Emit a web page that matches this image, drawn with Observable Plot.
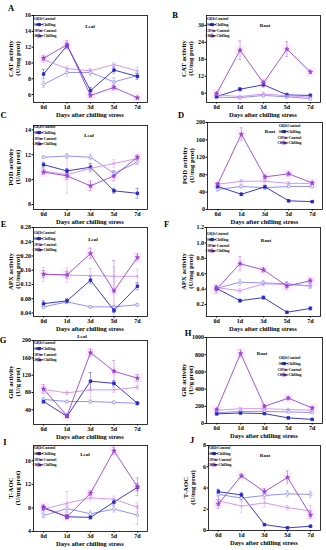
<!DOCTYPE html>
<html><head><meta charset="utf-8">
<script src="https://cdn.jsdelivr.net/npm/d3@7"></script>
<script src="https://cdn.jsdelivr.net/npm/@observablehq/plot@0.6"></script>
<style>
html,body{margin:0;padding:0;background:#fff;}
#chart{position:relative;width:326px;height:550px;overflow:hidden;background:#fff;}
#chart svg{position:absolute;left:0;top:0;}
</style></head><body><div id="chart"></div>
<script>
const days = ["0d","1d","3d","5d","7d"];
const series = ["ClCl-Control","ClCl-Chilling","ClCm-Control","ClCm-Chilling"];
const xTitle = "Days after chilling stress";

// values per panel: rows = series (same order as `series`), cols = days
const A_vals = [[7.3,8.8,8.8,7.6,8.4],[8.6,12.2,6.5,9.1,8.3],[10.4,9.3,9.0,9.8,9.0],[10.6,12.3,5.9,6.9,5.6]];
const A_errs = [[0.4,0.5,0.4,0.5,0.3],[0.6,0.3,0.4,0.4,0.4],[0.3,0.3,0.3,0.2,0.4],[0.3,0.5,0.3,0.3,0.2]];
const B_vals = [[4.6,4.4,5.2,4.7,4.1],[4.8,7.4,9.0,5.4,5.2],[5.4,4.8,5.7,5.1,4.6],[5.8,21.2,9.6,21.6,13.5]];
const B_errs = [[0.5,0.4,0.6,0.5,0.5],[0.5,0.6,0.8,0.6,0.5],[0.6,0.5,0.8,0.6,0.5],[0.6,3.3,1.0,2.6,0.6]];
const C_vals = [[11.8,11.9,11.8,10.5,11.4],[11.2,10.7,11.0,9.1,8.9],[10.7,10.4,10.9,11.3,11.7],[10.6,10.3,9.5,10.3,11.8]];
const C_errs = [[0.1,0.2,0.2,0.2,0.2],[0.2,0.2,0.3,0.2,0.4],[0.2,1.5,0.3,0.3,0.2],[0.2,0.3,0.4,0.4,0.2]];
const D_vals = [[46,53,50,53,53],[53,35,52,20,18],[58,65,65,60,60],[58,173,75,82,61]];
const D_errs = [[4,4,3,3,3],[3,3,4,2,2],[4,4,4,4,4],[4,15,4,5,4]];
const E_vals = [[0.057,0.071,0.057,0.057,0.063],[0.066,0.074,0.132,0.047,0.115],[0.148,0.146,0.145,0.143,0.143],[0.149,0.147,0.207,0.102,0.196]];
const E_errs = [[0.005,0.005,0.004,0.004,0.004],[0.008,0.006,0.01,0.006,0.01],[0.02,0.02,0.02,0.025,0.02],[0.01,0.01,0.015,0.085,0.01]];
const F_vals = [[0.41,0.49,0.48,0.47,0.44],[0.41,0.25,0.29,0.10,0.15],[0.42,0.38,0.47,0.46,0.44],[0.40,0.73,0.65,0.44,0.51]];
const F_errs = [[0.03,0.04,0.03,0.03,0.03],[0.02,0.02,0.02,0.01,0.02],[0.03,0.03,0.03,0.03,0.03],[0.05,0.09,0.03,0.04,0.03]];
const G_vals = [[64,59,59,57,55],[59,25,106,101,55],[87,79,86,86,92],[88,26,172,129,113]];
const G_errs = [[5,3,4,3,3],[4,3,20,6,4],[6,4,18,6,5],[10,4,8,25,8]];
const H_vals = [[125,140,140,135,127],[112,122,115,65,48],[155,172,172,162,155],[160,815,200,295,180]];
const H_errs = [[10,10,10,10,10],[10,10,10,10,8],[15,15,15,15,15],[15,40,15,20,15]];
const I_vals = [[6.7,7.9,7.0,7.8,6.8],[8.0,6.5,6.4,9.0,11.5],[7.8,8.8,9.7,9.5,8.1],[8.1,6.5,10.5,17.7,11.6]];
const I_errs = [[0.4,0.6,0.5,0.5,1.6],[0.4,0.3,0.3,0.5,0.6],[0.6,2.0,0.5,0.5,0.8],[0.5,0.4,0.4,0.6,1.5]];
const J_vals = [[3.4,3.05,3.3,3.45,3.4],[3.65,3.35,0.55,0.25,0.4],[2.8,2.3,2.6,2.15,1.85],[2.5,5.15,3.65,5.0,1.45]];
const J_errs = [[0.5,0.3,0.3,0.3,0.3],[0.2,0.2,0.1,0.05,0.1],[0.4,0.6,0.4,0.2,0.5],[0.4,0.2,0.3,0.6,0.3]];

const colors = ["#8585f2","#2626c4","#cf8cf0","#9545d6"];
const symbols = ["circle","square","times","star"];
const radii = [1.4,1.5,1.3,1.35];
const legendArea = [5,6,5,5.5];
const filled = [false,true,false,true];
const FONT = "'Liberation Serif','Times New Roman',serif";
const PAD = 0.43;

const panels = [
 {id:"A",tissue:"Leaf",yt:["CAT activity","(U/mg prot)"],f:[33,147,15,102],dom:[5,16],ticks:[6,8,10,12,14,16],v:A_vals,e:A_errs,L:[11,10.5],lg:[35,19],tp:[90,26]},
 {id:"B",tissue:"Root",yt:["CAT activity","(U/mg prot)"],f:[206,320,15,102],dom:[2.7,33.5],ticks:[6,12,18,24,30],v:B_vals,e:B_errs,L:[175,17.5],lg:[208,19],tp:[265,25]},
 {id:"C",tissue:"Leaf",yt:["POD activity","(U/mg prot)"],f:[33,147,125,209],dom:[7.6,14.35],ticks:[8,10,12,14],v:C_vals,e:C_errs,L:[3.5,118],lg:[35,127],tp:[89,135]},
 {id:"D",tissue:"Root",yt:["POD activity","(U/mg prot)"],f:[207,322,122,209],dom:[0,200],ticks:[0,40,80,120,160,200],v:D_vals,e:D_errs,L:[181,118],lg:[280,126],tp:[270,131]},
 {id:"E",tissue:"Leaf",yt:["APX activity","(U/mg prot)"],f:[33,147,227,316],dom:[0.03,0.28],ticks:[0.04,0.08,0.12,0.16,0.20,0.24,0.28],fmt:".2f",v:E_vals,e:E_errs,L:[3.5,227],lg:[35,233],tp:[93,239]},
 {id:"F",tissue:"Root",yt:["APX activity","(U/mg prot)"],f:[206,320,227,316],dom:[0.045,1.2],ticks:[0.2,0.4,0.6,0.8,1.0,1.2],fmt:".1f",v:F_vals,e:F_errs,L:[166.5,227],lg:[208,234],tp:[266,240]},
 {id:"G",tissue:"Leaf",yt:["GR activity","(U/g prot)"],f:[33,147,340,424],dom:[6,200],ticks:[40,80,120,160,200],v:G_vals,e:G_errs,L:[3,343],lg:[35,343],tp:[82,336]},
 {id:"H",tissue:"Root",yt:["GR activity","(U/g prot)"],f:[206,322,337,423],dom:[0,1000],ticks:[0,200,400,600,800,1000],v:H_vals,e:H_errs,L:[188,336],lg:[280,358],tp:[262,353]},
 {id:"I",tissue:"Leaf",yt:["T-AOC","(U/mg prot)"],f:[33,147,445,531],dom:[4,18.6],ticks:[4,8,12,16],v:I_vals,e:I_errs,L:[5,445],lg:[35,448],tp:[85,454]},
 {id:"J",tissue:"Root",yt:["T-AOC","(U/mg prot)"],f:[208,320,445,530],dom:[0,8],ticks:[0,2,4,6,8],v:J_vals,e:J_errs,L:[192,443],lg:[210,448],tp:[265,455]}
];

const root = document.getElementById("chart");

for (const p of panels) {
  const rows = [];
  series.forEach((s,i)=>days.forEach((d,j)=>rows.push({s, si:i, j, day:d, v:p.v[i][j], e:p.e[i][j]})));
  const cap = 0.065;
  const marks = [];
  marks.push(Plot.dot(rows.filter(r=>r.si===3), {x:"j", y:"v", symbol:"square", r:5.5, fill:"#ff99dd", fillOpacity:0.16, stroke:null}));
  marks.push(Plot.ruleX(rows, {x:"j", y1:r=>r.v-r.e, y2:r=>r.v+r.e, stroke:r=>colors[r.si], strokeWidth:0.6, strokeOpacity:0.7}));
  marks.push(Plot.ruleY(rows, {y:r=>r.v-r.e, x1:r=>r.j-cap, x2:r=>r.j+cap, stroke:r=>colors[r.si], strokeWidth:0.6, strokeOpacity:0.7}));
  marks.push(Plot.ruleY(rows, {y:r=>r.v+r.e, x1:r=>r.j-cap, x2:r=>r.j+cap, stroke:r=>colors[r.si], strokeWidth:0.6, strokeOpacity:0.7}));
  series.forEach((s,i)=>{
    const sub = rows.filter(r=>r.si===i);
    marks.push(Plot.line(sub, {x:"j", y:"v", stroke:colors[i], strokeWidth:0.9}));
    marks.push(Plot.dot(sub, {x:"j", y:"v", symbol:symbols[i], r:radii[i], fill: filled[i]?colors[i]:(symbols[i]==="circle"?"white":"none"), stroke:colors[i], strokeWidth:0.7}));
  });
  marks.push(Plot.frame({stroke:"black", strokeWidth:0.8}));
  marks.push(Plot.axisY({ticks:p.ticks, tickSize:1.5, tickPadding:1, tickFormat:p.fmt?d3.format(p.fmt):(d=>String(d)), label:null}));
  marks.push(Plot.axisX({ticks:[0,1,2,3,4], tickSize:1.5, tickPadding:1, tickFormat:i=>days[i], label:null}));

  const svg = Plot.plot({
    width:326, height:550,
    marginLeft:p.f[0], marginRight:326-p.f[1], marginTop:p.f[2], marginBottom:550-p.f[3],
    style:{background:"transparent", fontFamily:FONT, fontWeight:"bold", fontSize:"6px", color:"black", overflow:"visible"},
    x:{type:"linear", domain:[-PAD, 4+PAD]},
    y:{domain:p.dom},
    marks
  });
  const g = d3.select(svg).append("g").attr("font-family", FONT).attr("font-weight","bold").attr("fill","black");
  g.append("text").attr("x",p.L[0]).attr("y",p.L[1]).attr("font-size","8.5px").text(p.id);
  const cy = (p.f[2]+p.f[3])/2;
  g.append("text").attr("transform",`translate(${p.f[0]-22},${cy}) rotate(-90)`).attr("text-anchor","middle").attr("dy","0.35em").attr("font-size","6.8px").text(p.yt[0]);
  g.append("text").attr("transform",`translate(${p.f[0]-15},${cy}) rotate(-90)`).attr("text-anchor","middle").attr("dy","0.35em").attr("font-size","6.8px").text(p.yt[1]);
  g.append("text").attr("x",(p.f[0]+p.f[1])/2).attr("y",p.f[3]+12.5).attr("text-anchor","middle").attr("dy","0.35em").attr("font-size","6.5px").text(xTitle);
  g.append("text").attr("x",p.tp[0]).attr("y",p.tp[1]).attr("text-anchor","middle").attr("dy","0.35em").attr("font-size","5px").text(p.tissue);
  series.forEach((s,i)=>{
    const y = p.lg[1] + i*5.6, x0 = p.lg[0];
    g.append("line").attr("x1",x0).attr("x2",x0+8).attr("y1",y).attr("y2",y).attr("stroke",colors[i]).attr("stroke-width",0.8);
    const sym = {circle:d3.symbolCircle, square:d3.symbolSquare, times:d3.symbolTimes, star:d3.symbolStar}[symbols[i]];
    g.append("path").attr("d", d3.symbol(sym, legendArea[i])()).attr("transform",`translate(${x0+4},${y})`)
      .attr("fill", filled[i]?colors[i]:(symbols[i]==="circle"?"white":"none")).attr("stroke",colors[i]).attr("stroke-width",0.6);
    g.append("text").attr("x",x0+9.5).attr("y",y).attr("dy","0.35em").attr("font-size","3.8px").text(s);
  });
  root.appendChild(svg);
}
</script></body></html>
